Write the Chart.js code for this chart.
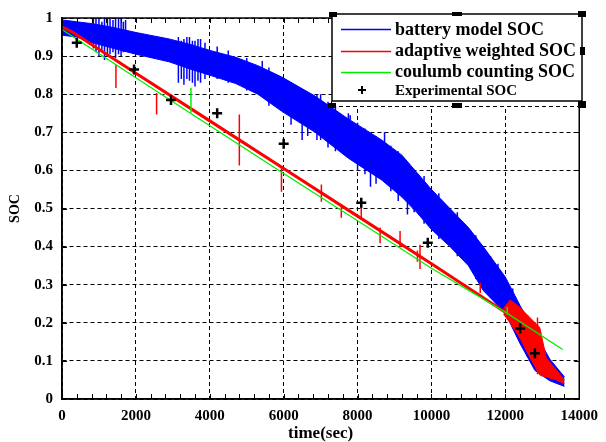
<!DOCTYPE html>
<html>
<head>
<meta charset="utf-8">
<title>SOC estimation</title>
<script src="https://cdn.jsdelivr.net/npm/chart.js@4.4.0/dist/chart.umd.min.js"></script>
<style>
  body { margin: 0; background: #fff; }
  #wrap { width: 606px; height: 442px; }
</style>
</head>
<body>
<div id="wrap"><canvas id="socChart"></canvas></div>
<script>
// battery model SOC - upper / lower edge of the noisy band
let bandTime = [0, 400, 830, 1400, 2000, 2900, 3500, 4000, 4700, 5300, 5950, 6850, 7750, 8650, 9200, 9600, 10000, 10500, 11000, 11400, 12000, 12400, 12800, 13200, 13600];
let bandHigh = [0.995, 0.99, 0.985, 0.975, 0.962, 0.945, 0.93, 0.915, 0.897, 0.875, 0.845, 0.795, 0.735, 0.68, 0.64, 0.595, 0.55, 0.50, 0.45, 0.40, 0.32, 0.245, 0.175, 0.105, 0.058];
let bandLow  = [0.955, 0.95, 0.935, 0.92, 0.905, 0.885, 0.865, 0.85, 0.828, 0.80, 0.755, 0.70, 0.632, 0.575, 0.53, 0.49, 0.445, 0.40, 0.35, 0.285, 0.225, 0.145, 0.075, 0.048, 0.033];

// battery model spikes (time, low, high)
let blueSpikeTime = [850, 920, 1000, 1080, 1150, 1230, 1300, 1380, 1450, 1530, 1600, 1660, 1720,
    3150, 3230, 3300, 3380, 3450, 3530, 3600, 3680, 3750, 3870,
    4200, 4500, 5000, 5420, 5600, 6200, 6500, 6650, 6900, 7000, 7200, 7400, 7750, 7800, 8000, 8200, 8350,
    8500, 8730, 8900, 9100, 9350, 9530, 9800, 10200, 10700, 11200, 11600, 11800, 12200, 12600, 13000];
let blueSpikeLow  = [0.92, 0.91, 0.90, 0.91, 0.89, 0.90, 0.905, 0.91, 0.895, 0.905, 0.90, 0.91, 0.915,
    0.83, 0.84, 0.825, 0.84, 0.835, 0.83, 0.82, 0.835, 0.83, 0.84,
    0.84, 0.83, 0.81, 0.83, 0.77, 0.72, 0.68, 0.69, 0.68, 0.68, 0.66, 0.65, 0.65, 0.655, 0.60, 0.59, 0.557,
    0.565, 0.57, 0.545, 0.52, 0.484, 0.49, 0.46, 0.42, 0.375, 0.315, 0.265, 0.25, 0.19, 0.11, 0.06];
let blueSpikeHigh = [0.998, 1.0, 1.0, 0.99, 1.0, 1.0, 1.0, 0.995, 1.0, 1.0, 1.0, 0.99, 0.995,
    0.95, 0.94, 0.945, 0.95, 0.95, 0.94, 0.94, 0.945, 0.945, 0.935,
    0.925, 0.915, 0.895, 0.887, 0.87, 0.83, 0.80, 0.79, 0.80, 0.80, 0.78, 0.77, 0.75, 0.745, 0.725, 0.71, 0.68,
    0.69, 0.70, 0.665, 0.65, 0.62, 0.60, 0.585, 0.54, 0.49, 0.43, 0.375, 0.355, 0.29, 0.22, 0.14];

// adaptive weighted SOC
let redTime = [0, 300, 2000, 4000, 6000, 8000, 10000, 12000];
let redSoc  = [0.977, 0.962, 0.855, 0.730, 0.605, 0.480, 0.355, 0.228];
let redTailTime = [11950, 12130, 12400, 12660, 12930, 13110, 13380, 13600];
let redTailHigh = [0.238, 0.26, 0.24, 0.214, 0.188, 0.107, 0.076, 0.05];
let redTailLow  = [0.222, 0.2, 0.159, 0.11, 0.063, 0.058, 0.05, 0.04];
let redSpikeTime = [1460, 2560, 4800, 5940, 7020, 7560, 8100, 8610, 9150, 9620, 9690, 11320, 12870];
let redSpikeLow  = [0.816, 0.747, 0.613, 0.544, 0.518, 0.476, 0.474, 0.409, 0.398, 0.36, 0.341, 0.278, 0.065];
let redSpikeHigh = [0.877, 0.803, 0.747, 0.609, 0.563, 0.511, 0.505, 0.450, 0.441, 0.39, 0.405, 0.305, 0.214];

// coulumb counting SOC
let greenTime = [0, 2000, 4000, 6000, 8000, 10000, 12000, 13550];
let greenSoc  = [0.970, 0.843, 0.717, 0.592, 0.468, 0.343, 0.228, 0.13];
let greenSpikeTime = [3490, 12050];
let greenSpikeLow  = [0.751, 0.222];
let greenSpikeHigh = [0.816, 0.242];

// Experimental SOC
let expTime = [400, 1950, 2950, 4200, 6000, 8100, 9900, 12400, 12800];
let expSoc  = [0.935, 0.865, 0.785, 0.75, 0.67, 0.515, 0.41, 0.185, 0.12];

let legendLabels = ['battery model SOC', 'adaptive weighted SOC', 'coulumb counting SOC', 'Experimental SOC'];
let legendColors = ['#0000ff', '#ff0000', '#00ee00', '#000000'];

function toPoints(xs, ys) {
    return xs.map((x, i) => ({ x: x, y: ys[i] }));
}

// vertical segments, broken apart with null points
function toSpikes(ts, lo, hi) {
    let pts = [];
    for (let i = 0; i < ts.length; i++) {
        pts.push({ x: ts[i], y: lo[i] }, { x: ts[i], y: hi[i] }, { x: ts[i], y: null });
    }
    return pts;
}

function lineSet(data, color, width, extra) {
    return Object.assign({
        data: data,
        showLine: true,
        borderColor: color,
        backgroundColor: color,
        borderWidth: width,
        pointRadius: 0,
        fill: false,
        spanGaps: false
    }, extra || {});
}

const serif = '"Liberation Serif", "Times New Roman", serif';

// frame, inner tick marks and the legend box
const framePlugin = {
    id: 'frame',
    afterDraw(chart) {
        const ctx = chart.ctx;
        const a = chart.chartArea;
        const xs = chart.scales.x, ys = chart.scales.y;
        ctx.save();
        ctx.strokeStyle = '#000';
        ctx.lineWidth = 1.5;
        ctx.strokeRect(a.left, a.top, a.right - a.left, a.bottom - a.top);

        ctx.lineWidth = 1;
        ctx.beginPath();
        for (let t = 0; t <= 14000; t += 400) {
            let px = Math.round(xs.getPixelForValue(t)) + 0.5;
            ctx.moveTo(px, a.bottom); ctx.lineTo(px, a.bottom - 5);
            ctx.moveTo(px, a.top); ctx.lineTo(px, a.top + 5);
        }
        for (let v = 0; v <= 10; v++) {
            let py = Math.round(ys.getPixelForValue(v / 10)) + 0.5;
            ctx.moveTo(a.left, py); ctx.lineTo(a.left + 5, py);
            ctx.moveTo(a.right, py); ctx.lineTo(a.right - 5, py);
        }
        ctx.stroke();

        // legend
        const bx = 332, by = 14, bw = 250, bh = 87;
        ctx.fillStyle = '#fff';
        ctx.fillRect(bx, by, bw, bh + 5);
        ctx.lineWidth = 1.5;
        ctx.strokeRect(bx, by, bw, bh);
        ctx.setLineDash([4, 3]);
        ctx.lineWidth = 1;
        ctx.beginPath();
        ctx.moveTo(bx, 106.5); ctx.lineTo(bx + bw, 106.5);
        ctx.moveTo(bx + bw + 0.5, by + bh); ctx.lineTo(bx + bw + 0.5, 106.5);
        ctx.moveTo(bx - 0.5, by + bh); ctx.lineTo(bx - 0.5, 106.5);
        ctx.stroke();
        ctx.setLineDash([]);

        ctx.fillStyle = '#000';
        [[329, 12, 8, 5], [452, 12, 10, 4], [578, 11, 8, 6], [580, 47, 5, 8],
         [328, 103, 8, 5], [452, 103, 10, 5], [578, 101, 8, 7]].forEach(h => ctx.fillRect(h[0], h[1], h[2], h[3]));

        const rowY = [29.5, 51.5, 72.5, 90];
        const baseY = [34.5, 56, 77, 94.5];
        ctx.textBaseline = 'alphabetic';
        ctx.textAlign = 'left';
        for (let i = 0; i < 3; i++) {
            ctx.strokeStyle = legendColors[i];
            ctx.lineWidth = 1.5;
            ctx.beginPath();
            ctx.moveTo(341, rowY[i]); ctx.lineTo(391, rowY[i]);
            ctx.stroke();
            ctx.fillStyle = '#000';
            ctx.font = 'bold 18px ' + serif;
            ctx.fillText(legendLabels[i], 395, baseY[i]);
        }
        // underline under the "e" of adaptive
        ctx.font = 'bold 18px ' + serif;
        let ux = 395 + ctx.measureText('adaptiv').width;
        let uw = ctx.measureText('e').width;
        ctx.strokeStyle = '#000';
        ctx.lineWidth = 1.2;
        ctx.beginPath();
        ctx.moveTo(ux, baseY[1] + 1.5); ctx.lineTo(ux + uw, baseY[1] + 1.5);
        ctx.stroke();

        // experimental marker
        ctx.lineWidth = 2;
        ctx.beginPath();
        ctx.moveTo(358, rowY[3]); ctx.lineTo(366, rowY[3]);
        ctx.moveTo(362, rowY[3] - 4); ctx.lineTo(362, rowY[3] + 4);
        ctx.stroke();
        ctx.font = 'bold 15px ' + serif;
        ctx.fillText(legendLabels[3], 395, baseY[3]);
        ctx.restore();
    }
};

const chartData = {
    datasets: [
        lineSet(toPoints(expTime, expSoc), '#000', 2.5, { showLine: false, pointRadius: 5, pointStyle: 'cross', pointBorderWidth: 2.5 }),
        lineSet(toSpikes(greenSpikeTime, greenSpikeLow, greenSpikeHigh), '#00ee00', 1.5),
        lineSet(toPoints(greenTime, greenSoc), '#00ee00', 1.3),
        lineSet(toPoints(redTailTime, redTailHigh), '#ff0000', 1, { fill: '+1' }),
        lineSet(toPoints(redTailTime, redTailLow), '#ff0000', 1),
        lineSet(toSpikes(redSpikeTime, redSpikeLow, redSpikeHigh), '#ff0000', 1.5),
        lineSet(toPoints(redTime, redSoc), '#ff0000', 3),
        lineSet(toSpikes(blueSpikeTime, blueSpikeLow, blueSpikeHigh), '#0000ff', 1.5),
        lineSet(toPoints(bandTime, bandHigh), '#0000ff', 1, { fill: '+1' }),
        lineSet(toPoints(bandTime, bandLow), '#0000ff', 1)
    ]
};

const config = {
    type: 'scatter',
    data: chartData,
    plugins: [framePlugin],
    options: {
        responsive: true,
        maintainAspectRatio: false,
        animation: false,
        events: [],
        layout: { padding: { left: 0, right: 23, top: 14, bottom: 0 } },
        plugins: { legend: { display: false }, tooltip: { enabled: false } },
        scales: {
            x: {
                type: 'linear',
                min: 0,
                max: 14000,
                afterFit: (scale) => { scale.height = 43; },
                ticks: {
                    stepSize: 2000,
                    padding: 8,
                    color: '#000',
                    font: { family: serif, size: 15, weight: 'bold' },
                    callback: (v) => String(v)
                },
                grid: { color: '#000', lineWidth: 1, drawTicks: false },
                border: { display: true, color: '#000', width: 1.5, dash: [4, 3] },
                title: {
                    display: true,
                    text: 'time(sec)',
                    color: '#000',
                    padding: { top: 0, bottom: 0 },
                    font: { family: serif, size: 17, weight: 'bold', lineHeight: 1 }
                }
            },
            y: {
                type: 'linear',
                min: 0,
                max: 1,
                afterFit: (scale) => { scale.width = 62; },
                ticks: {
                    stepSize: 0.1,
                    padding: 9,
                    color: '#000',
                    font: { family: serif, size: 15, weight: 'bold' },
                    callback: (v) => String(+v.toFixed(1))
                },
                grid: { color: '#000', lineWidth: 1, drawTicks: false },
                border: { display: true, color: '#000', width: 1.5, dash: [4, 3] },
                title: {
                    display: true,
                    text: 'SOC',
                    color: '#000',
                    padding: { top: 8, bottom: 0 },
                    font: { family: serif, size: 14, weight: 'bold', lineHeight: 1 }
                }
            }
        }
    }
};

const socChart = new Chart(document.getElementById('socChart'), config);
</script>
</body>
</html>
